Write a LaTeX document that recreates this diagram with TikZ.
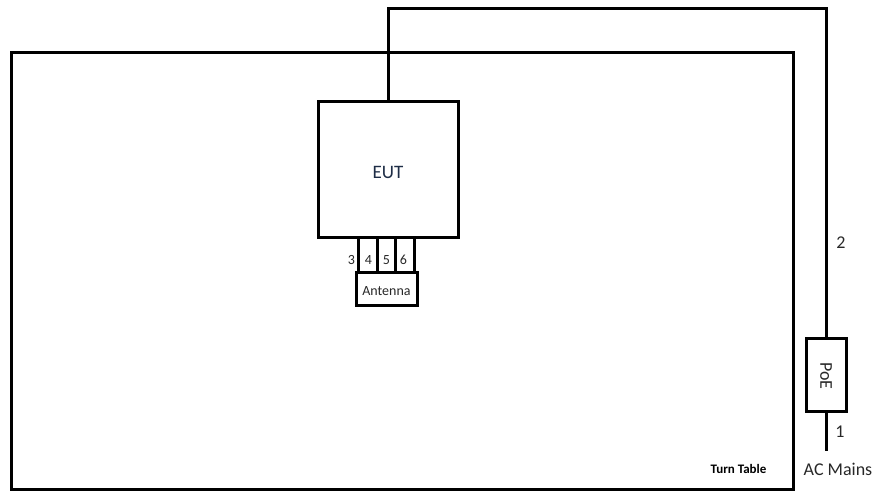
\documentclass[tikz,border=0pt]{standalone}
\usepackage{fontspec}
\setmainfont{Carlito}
\definecolor{txt}{RGB}{40,40,40}
\definecolor{euttxt}{RGB}{30,45,70}
\begin{document}
\begin{tikzpicture}[x=1pt,y=-1pt,
  thick line/.style={line width=3pt, line join=miter},
  boxnode/.style={draw, line width=3pt, fill=white, inner sep=0pt},
  lbl/.style={text=txt, inner sep=0pt, font=\fontsize{18}{21}\selectfont},
  small/.style={text=txt, inner sep=0pt, font=\fontsize{14}{17}\selectfont}]
\useasboundingbox (0,0) rectangle (877,490);
% turn table
\draw[thick line] (11,489.5) rectangle (793,52.5);
\node[inner sep=0pt, font=\bfseries\fontsize{13}{15}\selectfont] (tt) at (738.5,469) {Turn Table};
% EUT
\node[boxnode, minimum width=140pt, minimum height=136pt] (eut) at (388,169) {};
\node[text=euttxt, inner sep=0pt, font=\fontsize{19}{22}\selectfont] (euttext) at (388,172) {EUT};
% antenna
\node[boxnode, minimum width=61pt, minimum height=33pt] (ant) at (386.5,289) {};
\node[small] (anttext) at (386.5,291) {Antenna};
\coordinate (p3) at (358,0);
\coordinate (p4) at (377,0);
\coordinate (p5) at (395,0);
\coordinate (p6) at (414,0);
\foreach \p in {p3,p4,p5,p6}
  \draw[thick line] (\p |- eut.south) -- (\p |- ant.north);
\node[small] (n3) at (351.5,260) {3};
\node[small] (n4) at (368.5,260) {4};
\node[small] (n5) at (386.5,260) {5};
\node[small] (n6) at (403.5,260) {6};
% PoE
\node[boxnode, minimum width=40pt, minimum height=73pt] (poe) at (826,374.5) {};
\node[lbl, rotate=-90] (poetext) at (826,376) {PoE};
% cable 2
\coordinate (c1) at (388,8);
\coordinate (c2) at (826,8);
\draw[thick line] (eut.north) -- (c1) -- (c2) -- (poe.north);
\node[lbl] (l2) at (841,243) {2};
% cable 1
\node[lbl] (ac) at (838,469) {AC Mains};
\draw[thick line] (poe.south) -- (826,451);
\node[lbl] (l1) at (840,432) {1};
\end{tikzpicture}
\end{document}
